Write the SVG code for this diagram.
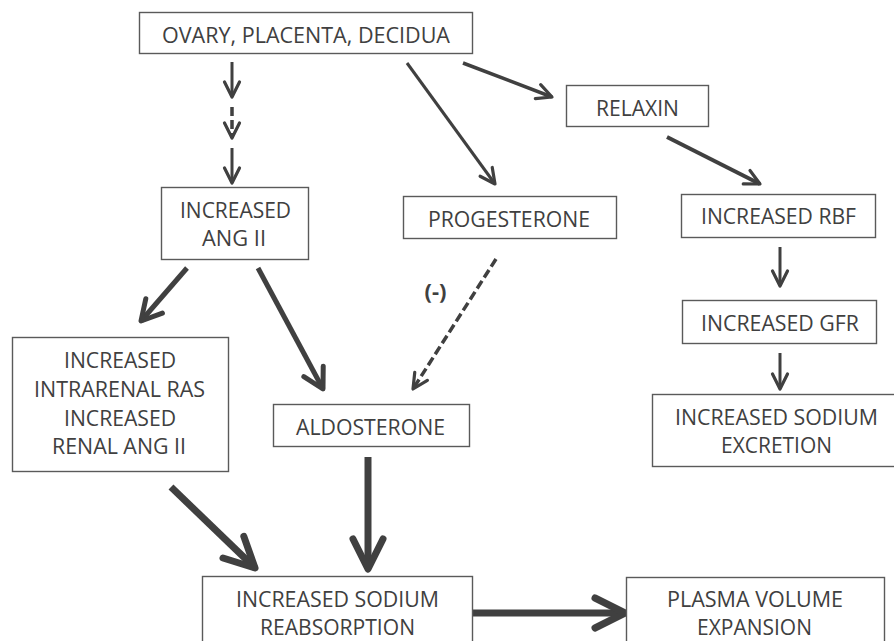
<svg xmlns="http://www.w3.org/2000/svg" width="894" height="641" viewBox="0 0 894 641">
<style>
  .box { fill: #ffffff; stroke: #5a5a5a; stroke-width: 1.4; }
  .lbl { font-family: "Open Sans", "Noto Sans", "Liberation Sans", sans-serif; font-size: 21px; fill: #404040; text-anchor: middle; }
  .bold { font-weight: bold; font-size: 22px; }
  .c { fill: none; stroke: #404040; stroke-linecap: butt; }
  .w3 { stroke-width: 3; }
  .w35 { stroke-width: 3.5; }
  .w4 { stroke-width: 4; }
  .w5 { stroke-width: 5; }
  .w7 { stroke-width: 7; }
  .dash { stroke-dasharray: 9 4; stroke-width: 3.5; }
  .mk { fill: none; stroke: #404040; stroke-linecap: round; stroke-linejoin: round; }
</style>
<defs>
  <marker id="hS" markerUnits="userSpaceOnUse" markerWidth="30" markerHeight="30" refX="0" refY="0" orient="auto" overflow="visible">
    <path class="mk" d="M-15,-7.5 L0,0 L-15,7.5" stroke-width="3.2"/>
  </marker>
  <marker id="hM" markerUnits="userSpaceOnUse" markerWidth="40" markerHeight="40" refX="0" refY="0" orient="auto" overflow="visible">
    <path class="mk" d="M-20,-11 L0,0 L-20,11" stroke-width="5"/>
  </marker>
  <marker id="hL" markerUnits="userSpaceOnUse" markerWidth="60" markerHeight="60" refX="0" refY="0" orient="auto" overflow="visible">
    <path class="mk" d="M-30,-15 L0,0 L-30,15" stroke-width="7"/>
  </marker>
</defs>
<rect x="0" y="0" width="894" height="641" fill="#ffffff"/>

<g id="connectors">
  <line class="c w3" x1="232" y1="62" x2="232" y2="97" marker-end="url(#hS)"/>
  <line class="c dash" x1="232" y1="107" x2="232" y2="138" marker-end="url(#hS)"/>
  <line class="c w3" x1="232" y1="148" x2="232" y2="183" marker-end="url(#hS)"/>
  <line class="c w3" x1="407" y1="63" x2="495" y2="184" marker-end="url(#hS)"/>
  <line class="c w35" x1="463" y1="63" x2="552" y2="97" marker-end="url(#hS)"/>
  <line class="c w4" x1="667" y1="137" x2="760" y2="184" marker-end="url(#hS)"/>
  <line class="c w3" x1="780" y1="247" x2="780" y2="286" marker-end="url(#hS)"/>
  <line class="c w3" x1="780" y1="353" x2="780" y2="389" marker-end="url(#hS)"/>
  <line class="c w5" x1="187" y1="268" x2="141" y2="321" marker-end="url(#hM)"/>
  <line class="c w5" x1="258" y1="268" x2="323" y2="389" marker-end="url(#hM)"/>
  <line class="c dash" x1="496" y1="259" x2="413" y2="389" marker-end="url(#hS)"/>
  <line class="c w7" x1="171" y1="487" x2="255" y2="568" marker-end="url(#hL)"/>
  <line class="c w7" x1="368" y1="457" x2="368" y2="569" marker-end="url(#hL)"/>
  <line class="c w7" x1="472" y1="613" x2="625" y2="613" marker-end="url(#hL)"/>
  <text class="lbl bold" x="435.5" y="299">(-)</text>
</g>

<g id="ovary">
  <rect class="box" x="139.5" y="12.5" width="333" height="41"/>
  <text class="lbl" x="306" y="43" textLength="288" lengthAdjust="spacingAndGlyphs">OVARY, PLACENTA, DECIDUA</text>
</g>
<g id="relaxin">
  <rect class="box" x="566.5" y="85.5" width="142" height="41"/>
  <text class="lbl" x="637.5" y="116" textLength="83" lengthAdjust="spacingAndGlyphs">RELAXIN</text>
</g>
<g id="ang2">
  <rect class="box" x="161.5" y="187.5" width="147" height="72"/>
  <text class="lbl" x="235.5" y="218" textLength="111" lengthAdjust="spacingAndGlyphs">INCREASED</text>
  <text class="lbl" x="234" y="246" textLength="64" lengthAdjust="spacingAndGlyphs">ANG II</text>
</g>
<g id="progesterone">
  <rect class="box" x="403.5" y="196.5" width="213" height="42"/>
  <text class="lbl" x="509" y="227" textLength="162" lengthAdjust="spacingAndGlyphs">PROGESTERONE</text>
</g>
<g id="rbf">
  <rect class="box" x="681.5" y="194.5" width="194" height="43"/>
  <text class="lbl" x="778.5" y="224" textLength="155" lengthAdjust="spacingAndGlyphs">INCREASED RBF</text>
</g>
<g id="gfr">
  <rect class="box" x="682.5" y="300.5" width="194" height="43"/>
  <text class="lbl" x="780" y="331" textLength="158" lengthAdjust="spacingAndGlyphs">INCREASED GFR</text>
</g>
<g id="excretion">
  <rect class="box" x="652.5" y="394.5" width="250" height="72"/>
  <text class="lbl" x="776.5" y="425" textLength="203" lengthAdjust="spacingAndGlyphs">INCREASED SODIUM</text>
  <text class="lbl" x="776.5" y="453" textLength="111" lengthAdjust="spacingAndGlyphs">EXCRETION</text>
</g>
<g id="intrarenal">
  <rect class="box" x="12.5" y="337.5" width="216" height="134"/>
  <text class="lbl" x="120" y="368" textLength="112" lengthAdjust="spacingAndGlyphs">INCREASED</text>
  <text class="lbl" x="119.5" y="397" textLength="171" lengthAdjust="spacingAndGlyphs">INTRARENAL RAS</text>
  <text class="lbl" x="120" y="426" textLength="112" lengthAdjust="spacingAndGlyphs">INCREASED</text>
  <text class="lbl" x="119" y="454" textLength="134" lengthAdjust="spacingAndGlyphs">RENAL ANG II</text>
</g>
<g id="aldosterone">
  <rect class="box" x="273.5" y="404.5" width="196" height="42"/>
  <text class="lbl" x="370.5" y="435" textLength="149" lengthAdjust="spacingAndGlyphs">ALDOSTERONE</text>
</g>
<g id="reabsorption">
  <rect class="box" x="202.5" y="576.5" width="270" height="90"/>
  <text class="lbl" x="337.5" y="607" textLength="203" lengthAdjust="spacingAndGlyphs">INCREASED SODIUM</text>
  <text class="lbl" x="337.5" y="635" textLength="155" lengthAdjust="spacingAndGlyphs">REABSORPTION</text>
</g>
<g id="plasma">
  <rect class="box" x="626.5" y="577.5" width="258" height="90"/>
  <text class="lbl" x="755" y="607" textLength="176" lengthAdjust="spacingAndGlyphs">PLASMA VOLUME</text>
  <text class="lbl" x="754.5" y="635" textLength="115" lengthAdjust="spacingAndGlyphs">EXPANSION</text>
</g>
</svg>
